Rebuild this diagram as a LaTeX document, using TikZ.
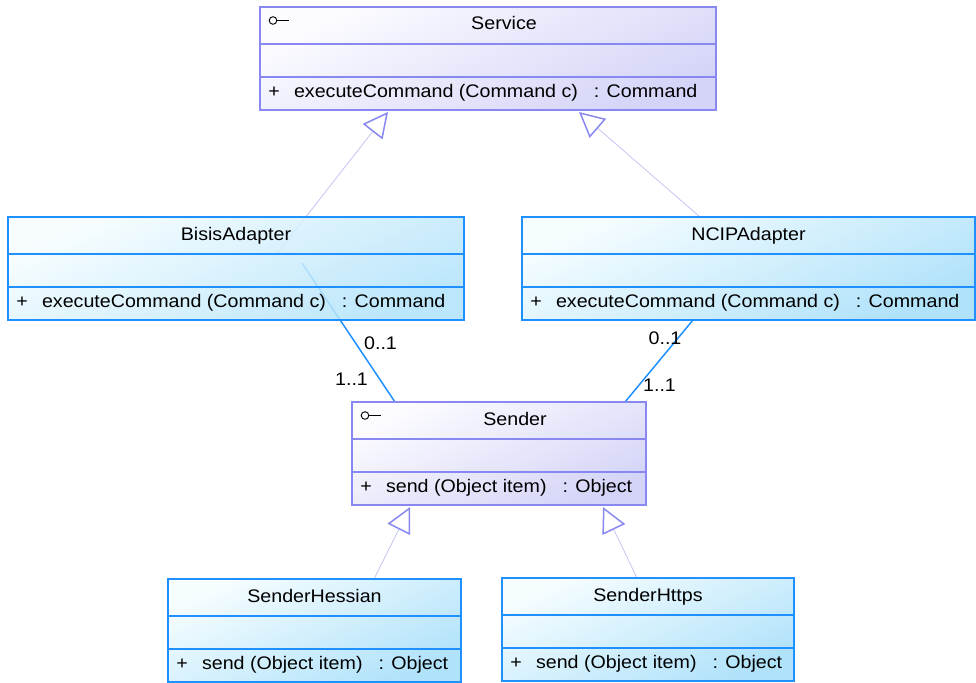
\documentclass[tikz,border=0pt]{standalone}
\usepackage{fontspec}
\setmainfont{Liberation Sans}[FakeStretch=1.08]
\usetikzlibrary{arrows.meta,backgrounds}

\definecolor{ifaceline}{RGB}{136,136,240}
\definecolor{ifacelight}{RGB}{252,252,255}
\definecolor{ifacedark}{RGB}{212,212,248}
\definecolor{classline}{RGB}{30,144,255}
\definecolor{classlight}{RGB}{246,253,255}
\definecolor{classdark}{RGB}{176,226,250}
\definecolor{genline}{RGB}{196,196,244}

\tikzset{
  every node/.style={inner sep=0pt, outer sep=0pt,
    font=\fontsize{18.2pt}{22pt}\selectfont},
  iface box/.style={rectangle, anchor=north west, minimum height=103pt,
    draw=ifaceline, line width=1.4pt,
    top color=ifacelight, bottom color=ifacedark, shading angle=25},
  iface sep/.style={draw=ifaceline, line width=1.4pt},
  plain box/.style={rectangle, anchor=north west, minimum height=103pt,
    draw=classline, line width=1.6pt,
    top color=classlight, bottom color=classdark, shading angle=25},
  plain sep/.style={draw=classline, line width=1.6pt},
  see through/.style={fill opacity=0.85},
  iconline/.style={draw=black, line width=0.9pt},
  genedge/.style={draw=genline, line width=0.8pt,
    -{Triangle[color=ifaceline, open, length=25pt, width=25pt, line width=1.5pt]}},
  assoc/.style={draw=classline, line width=1.5pt},
  mult/.style={anchor=center},
}

% #1 kind, #2 name, #3 left, #4 top, #5 right, #6 title, #7 operation,
% #8 title shift, #9 extra box options
\newcommand{\umlclass}[9]{%
  \node[#1 box, minimum width={(#5-#3)*1pt}, #9] (#2) at (#3,#4) {};
  \draw[#1 sep] ([yshift=-37pt]#2.north west) -- ([yshift=-37pt]#2.north east);
  \draw[#1 sep] ([yshift=-70pt]#2.north west) -- ([yshift=-70pt]#2.north east);
  \node[anchor=base] (#2-title) at ([xshift=#8pt, yshift=-23pt]#2.north) {#6};
  \node[anchor=base] (#2-vis) at ([xshift=14pt, yshift=-90.5pt]#2.north west) {+};
  \node[anchor=base west] (#2-op) at ([xshift=34pt, yshift=-90.5pt]#2.north west) {#7};
}
% lollipop mark of an interface
\newcommand{\ifaceicon}[1]{%
  \draw[iconline] ([xshift=13pt, yshift=-13.5pt]#1.north west) circle[radius=3.8pt]
    ++(3.8pt,0pt) -- ++(12pt,0pt);
}

\begin{document}
\begin{tikzpicture}[x=1pt, y=-1pt]
\useasboundingbox (0,0) rectangle (976,682);

\umlclass{iface}{service}{260}{7}{716}{Service}{executeCommand (Command c)\hspace{16pt}: Command}{16}{}
\ifaceicon{service}
\umlclass{plain}{bisis}{8}{217}{464}{BisisAdapter}{executeCommand (Command c)\hspace{16pt}: Command}{0}{see through}
\umlclass{plain}{ncip}{522}{217}{975}{NCIPAdapter}{executeCommand (Command c)\hspace{16pt}: Command}{0}{}
\umlclass{iface}{sender}{352}{402}{646}{Sender}{send (Object item)\hspace{16pt}: Object}{16}{}
\ifaceicon{sender}
\umlclass{plain}{hessian}{168}{579}{461}{SenderHessian}{send (Object item)\hspace{16pt}: Object}{0}{}
\umlclass{plain}{https}{502}{578}{794}{SenderHttps}{send (Object item)\hspace{16pt}: Object}{0}{}

\begin{scope}[on background layer]
  % realizations
  \draw[genedge] ([xshift=268pt, yshift=-38pt]bisis.north west) -- ([xshift=128pt, yshift=-2pt]service.south west);
  \draw[genedge] ([xshift=178pt]ncip.north west) -- ([xshift=319pt, yshift=-2pt]service.south west);
  \draw[genedge] ([xshift=206pt]hessian.north west) -- ([xshift=58pt, yshift=-2pt]sender.south west);
  \draw[genedge] ([xshift=135pt]https.north west) -- ([xshift=251pt, yshift=-2pt]sender.south west);
  % associations
  \draw[assoc] ([xshift=294pt, yshift=-46pt]bisis.north west) -- ([xshift=43pt]sender.north west);
  \draw[assoc] ([xshift=171pt]ncip.south west) -- ([xshift=273pt]sender.north west);
\end{scope}

\node[mult] (bisis-mult) at (380.5,343.5) {0..1};
\node[mult] (sender-mult-l) at (351.5,379) {1..1};
\node[mult] (ncip-mult) at (665,338.5) {0..1};
\node[mult] (sender-mult-r) at (659.5,385) {1..1};
\end{tikzpicture}
\end{document}
